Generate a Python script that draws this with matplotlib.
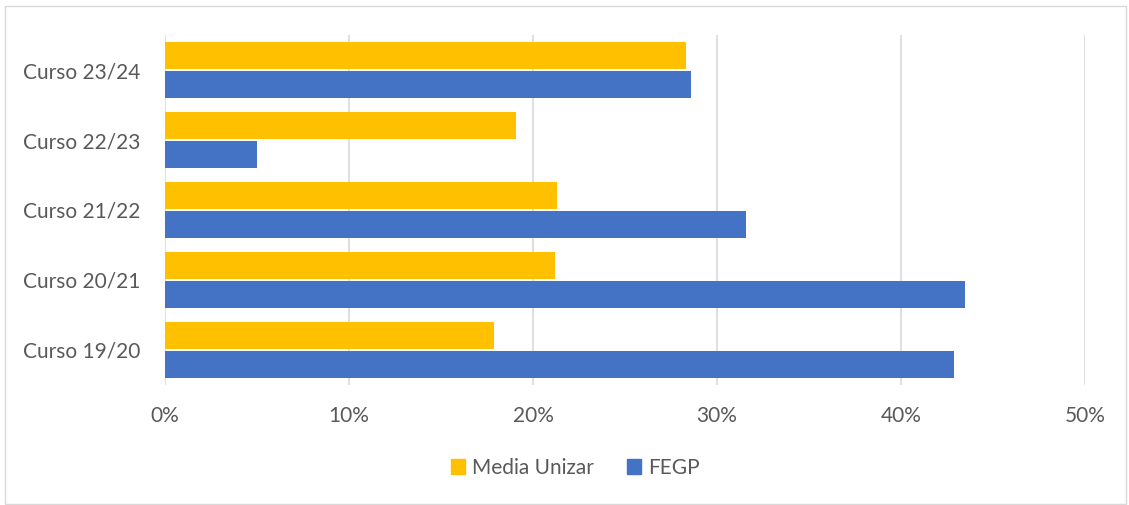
import matplotlib.pyplot as plt
import matplotlib.patches as mpatches
import numpy as np
from matplotlib.ticker import FuncFormatter

# Data (bottom to top as drawn)
cursos = ["Curso 19/20", "Curso 20/21", "Curso 21/22", "Curso 22/23", "Curso 23/24"]
media_unizar = [17.9, 21.2, 21.3, 19.1, 28.3]
fegp = [42.9, 43.5, 31.6, 5.0, 28.6]
xticks = [0, 10, 20, 30, 40, 50]

text_color = "#595959"
plt.rcParams["font.family"] = ["Lato", "DejaVu Sans"]

fig = plt.figure(figsize=(11.29, 5.05), dpi=100)
ax = fig.add_axes([165 / 1129, 1 - 385 / 505, 920 / 1129, 350 / 505])

# Chart border
fig.patches.append(mpatches.Rectangle((5 / 1129, 0.002), 1121 / 1129, 1 - 7 / 505,
                                      transform=fig.transFigure, fill=False,
                                      edgecolor="#d9d9d9", linewidth=1))

y = np.arange(len(cursos))
h = 0.375
ax.barh(y + 0.207, media_unizar, height=h, color="#FFC000", label="Media Unizar", zorder=3)
ax.barh(y - 0.207, fegp, height=h, color="#4472C4", label="FEGP", zorder=3)

ax.set_xlim(0, 50)
ax.set_ylim(-0.5, 4.5)
ax.set_xticks(xticks)
ax.xaxis.set_major_formatter(FuncFormatter(lambda v, p: f"{v:.0f}%"))
ax.set_yticks(y)
ax.set_yticklabels(cursos)
ax.tick_params(axis="both", length=0, colors=text_color, labelsize=15)
ax.tick_params(axis="x", pad=15)
ax.tick_params(axis="y", pad=18)

ax.grid(axis="x", color="#d9d9d9", linewidth=1.2, zorder=0)
for s in ax.spines.values():
    s.set_visible(False)

handles = [mpatches.Patch(color="#FFC000", label="Media Unizar"),
           mpatches.Patch(color="#4472C4", label="FEGP")]
fig.legend(handles=handles, loc="center", bbox_to_anchor=(575 / 1129, 1 - 468 / 505),
           ncol=2, frameon=False, fontsize=15, labelcolor=text_color,
           handlelength=0.7, handleheight=0.7, handletextpad=0.3, columnspacing=1.6)

plt.savefig("out.png", dpi=100)
